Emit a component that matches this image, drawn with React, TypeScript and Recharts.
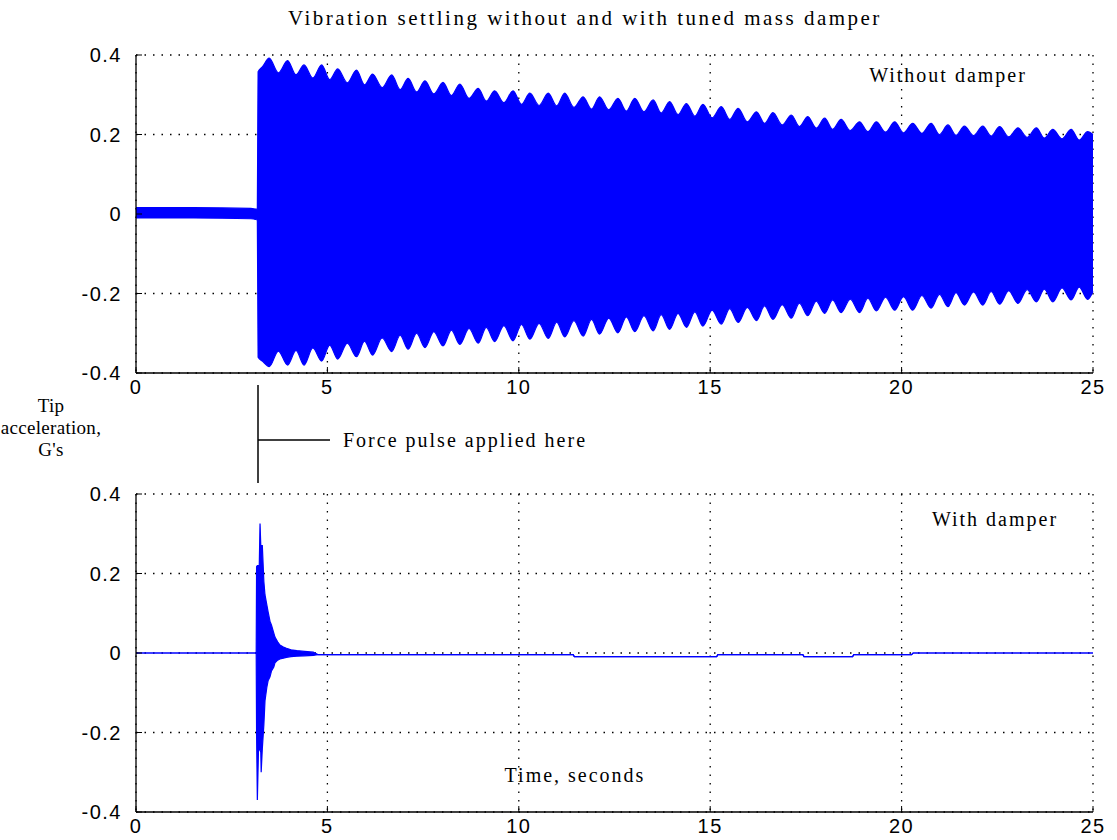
import { ComposedChart, Area, XAxis, YAxis, CartesianGrid } from 'recharts';

const xTicks = [0, 5, 10, 15, 20, 25];
const yTicks = [-0.4, -0.2, 0, 0.2, 0.4];

// without damper: quiet part, then the pulse hits at ~3.19 s
const preTime = [0, 1.5, 3.0, 3.17, 3.19, 3.3];
const preHigh = [0.016, 0.016, 0.014, 0.012, 0.358, 0.37];
const preLow = [-0.01, -0.01, -0.012, -0.015, -0.36, -0.37];

// envelope crests (rounded bumps) of the beating vibration
const crestTime = [3.48, 3.96, 4.39, 4.85, 5.27, 5.76, 6.18, 6.68, 7.11, 7.55, 8.02, 8.46, 8.94, 9.37, 9.85,
  10.29, 10.77, 11.2, 11.68, 12.11, 12.59, 13.03, 13.51, 13.94, 14.38, 14.81, 15.29, 15.73, 16.21, 16.64,
  17.12, 17.55, 17.99, 18.42, 18.9, 19.34, 19.82, 20.29, 20.77, 21.21, 21.64, 22.12, 22.56, 23.04, 23.52,
  23.95, 24.43, 24.86];
const crestHigh = [0.392, 0.386, 0.375, 0.375, 0.365, 0.362, 0.352, 0.35, 0.341, 0.335, 0.331, 0.327, 0.316,
  0.31, 0.31, 0.304, 0.304, 0.304, 0.295, 0.295, 0.291, 0.291, 0.287, 0.283, 0.278, 0.276, 0.27, 0.266,
  0.257, 0.255, 0.249, 0.245, 0.241, 0.238, 0.232, 0.232, 0.232, 0.228, 0.228, 0.224, 0.221, 0.221, 0.22,
  0.217, 0.217, 0.213, 0.213, 0.207];
const crestLow = [-0.384, -0.38, -0.38, -0.37, -0.365, -0.359, -0.355, -0.346, -0.34, -0.336, -0.332, -0.328,
  -0.325, -0.321, -0.319, -0.315, -0.313, -0.309, -0.307, -0.302, -0.299, -0.296, -0.294, -0.29, -0.285,
  -0.282, -0.277, -0.273, -0.268, -0.265, -0.262, -0.256, -0.25, -0.248, -0.248, -0.244, -0.242, -0.242,
  -0.237, -0.233, -0.229, -0.229, -0.227, -0.225, -0.221, -0.221, -0.216, -0.215];

// notches between the crests
const notchTime = [3.72, 4.18, 4.62, 5.06, 5.52, 5.97, 6.43, 6.9, 7.33, 7.78, 8.24, 8.7, 9.15, 9.61, 10.07,
  10.53, 10.99, 11.44, 11.9, 12.35, 12.81, 13.27, 13.72, 14.16, 14.6, 15.05, 15.51, 15.97, 16.42, 16.88,
  17.33, 17.77, 18.2, 18.66, 19.12, 19.58, 20.05, 20.53, 20.99, 21.42, 21.88, 22.34, 22.8, 23.28, 23.73,
  24.19, 24.64];
const notchHigh = [0.355, 0.35, 0.342, 0.338, 0.33, 0.325, 0.318, 0.313, 0.307, 0.302, 0.298, 0.291, 0.284,
  0.28, 0.276, 0.273, 0.272, 0.268, 0.264, 0.262, 0.259, 0.257, 0.254, 0.25, 0.246, 0.242, 0.238, 0.232,
  0.228, 0.224, 0.22, 0.216, 0.213, 0.21, 0.207, 0.206, 0.204, 0.203, 0.2, 0.198, 0.197, 0.196, 0.194,
  0.193, 0.191, 0.189, 0.186];
const notchLow = [-0.345, -0.343, -0.337, -0.33, -0.325, -0.32, -0.312, -0.305, -0.3, -0.296, -0.292, -0.288,
  -0.285, -0.281, -0.278, -0.275, -0.272, -0.268, -0.265, -0.262, -0.259, -0.256, -0.253, -0.25, -0.246,
  -0.242, -0.238, -0.235, -0.231, -0.228, -0.224, -0.219, -0.216, -0.214, -0.212, -0.209, -0.208, -0.205,
  -0.202, -0.198, -0.196, -0.195, -0.193, -0.19, -0.189, -0.186, -0.184];

const endTime = 25;
const endHigh = 0.2;
const endLow = -0.195;

// with damper
const dampTime = [0, 3.14, 3.15, 3.17, 3.2, 3.22, 3.24, 3.26, 3.27, 3.3, 3.34, 3.37, 3.42, 3.45, 3.5, 3.54,
  3.6, 3.63, 3.7, 3.76, 3.85, 3.93, 4.05, 4.2, 4.4, 4.63, 4.75, 11.42, 11.45, 15.17, 15.2, 17.42, 17.45,
  18.72, 18.75, 20.26, 20.3, 25];
const dampHigh = [0, 0, 0.217, 0.22, 0.22, 0.22, 0.326, 0.27, 0.27, 0.27, 0.18, 0.146, 0.12, 0.104, 0.08,
  0.07, 0.05, 0.04, 0.028, 0.02, 0.015, 0.012, 0.008, 0.006, 0.004, 0.002, -0.004, -0.004, -0.009, -0.009,
  -0.004, -0.004, -0.009, -0.009, -0.004, -0.004, 0, 0];
const dampLow = [0, 0, -0.2, -0.37, -0.244, -0.244, -0.244, -0.25, -0.3, -0.24, -0.181, -0.12, -0.085, -0.07,
  -0.06, -0.045, -0.035, -0.025, -0.018, -0.015, -0.013, -0.011, -0.009, -0.008, -0.007, -0.006, -0.004,
  -0.004, -0.009, -0.009, -0.004, -0.004, -0.009, -0.009, -0.004, -0.004, 0, 0];

type Row = { t: number; band: [number, number] };

const topData: Row[] = [];
preTime.forEach((t, i) => topData.push({ t, band: [preLow[i], preHigh[i]] }));
crestTime.forEach((t, i) => {
  topData.push({ t, band: [crestLow[i], crestHigh[i]] });
  if (i < notchTime.length) topData.push({ t: notchTime[i], band: [notchLow[i], notchHigh[i]] });
});
topData.push({ t: endTime, band: [endLow, endHigh] });

const bottomData: Row[] = dampTime.map((t, i) => ({ t, band: [dampLow[i], dampHigh[i]] }));

const BLUE = '#0000ff';
const tickFont = { fill: '#000', fontSize: 20, fontFamily: '"Liberation Sans", Arial, sans-serif', letterSpacing: 1.5 };
const serif: React.CSSProperties = { fontFamily: '"Liberation Serif", "Times New Roman", serif', fontSize: 20, letterSpacing: 2 };
const axisLine = { stroke: '#000', strokeWidth: 1.3 };

function Panel({ data, top, marginTop, xHeight, curve }: {
  data: Row[]; top: number; marginTop: number; xHeight: number; curve: 'linear' | 'monotoneX';
}) {
  return (
    <div style={{ position: 'absolute', left: 0, top }}>
      <ComposedChart width={1117} height={400} data={data} margin={{ top: marginTop, right: 24, bottom: 0, left: 76 }}>
        <CartesianGrid stroke="#000" strokeDasharray="1.5 7" strokeWidth={1.3} />
        <XAxis type="number" dataKey="t" domain={[0, 25]} ticks={xTicks} interval={0} height={xHeight}
          axisLine={axisLine} tickLine={{ stroke: '#000' }} tickSize={-6} tickMargin={13} tick={tickFont} />
        <XAxis xAxisId="top" orientation="top" type="number" domain={[0, 25]} ticks={xTicks} interval={0} height={0}
          axisLine={axisLine} tickLine={{ stroke: '#000' }} tickSize={-6} tickFormatter={() => ''} />
        <YAxis type="number" domain={[-0.4, 0.4]} ticks={yTicks} interval={0} width={60}
          axisLine={axisLine} tickLine={{ stroke: '#000' }} tickSize={-6} tickMargin={20} tick={tickFont} />
        <YAxis yAxisId="right" orientation="right" type="number" domain={[-0.4, 0.4]} ticks={yTicks} interval={0} width={0}
          axisLine={axisLine} tickLine={{ stroke: '#000' }} tickSize={-6} tickFormatter={() => ''} />
        <Area type={curve} dataKey="band" stroke={BLUE} strokeWidth={1.2} fill={BLUE} fillOpacity={1}
          dot={false} activeDot={false} isAnimationActive={false} />
      </ComposedChart>
    </div>
  );
}

export default function App() {
  return (
    <div style={{ position: 'absolute', left: 0, top: 0, width: 1117, height: 840, background: '#fff' }}>
      <Panel data={topData} top={0} marginTop={55} xHeight={27} curve="monotoneX" />
      <Panel data={bottomData} top={440} marginTop={54} xHeight={28} curve="linear" />
      <svg width={1117} height={840} style={{ position: 'absolute', left: 0, top: 0, pointerEvents: 'none' }}>
        <g style={serif} fill="#000" dominantBaseline="central">
          <text x={585} y={18} textAnchor="middle" style={{ fontSize: 21, letterSpacing: 2.5 }}>
            Vibration settling without and with tuned mass damper
          </text>
          <text x={948} y={75} textAnchor="middle">Without damper</text>
          <text x={995} y={519} textAnchor="middle">With damper</text>
          <text x={575} y={775} textAnchor="middle">Time, seconds</text>
          <g style={{ fontSize: 19, letterSpacing: 0.3 }}>
            <text x={51} y={405} textAnchor="middle">Tip</text>
            <text x={51} y={427} textAnchor="middle">acceleration,</text>
            <text x={51} y={449} textAnchor="middle">G's</text>
          </g>
          <text x={343} y={440}>Force pulse applied here</text>
        </g>
        <line x1={258} y1={385} x2={258} y2={483} stroke="#000" strokeWidth={1.5} />
        <line x1={258} y1={440} x2={330} y2={440} stroke="#000" strokeWidth={1.5} />
      </svg>
    </div>
  );
}
